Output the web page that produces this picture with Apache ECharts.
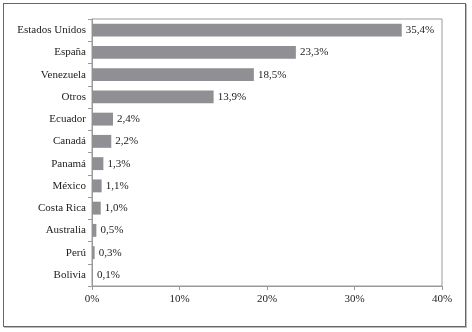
<!DOCTYPE html>
<html>
<head>
<meta charset="utf-8">
<script src="https://cdn.jsdelivr.net/npm/echarts@6/dist/echarts.min.js"></script>
<style>
  html, body { margin: 0; padding: 0; background: #fff; }
  .frame {
    position: absolute; left: 3px; top: 3px; width: 461px; height: 322px;
    border: 1px solid #666; box-shadow: 1px 1px 0 #bbb;
  }
  #bar { position: absolute; left: 0; top: 0; width: 472px; height: 332px; }
</style>
</head>
<body>
<div class="frame"></div>
<div id="bar"></div>
<script>
var countries = ['Estados Unidos', 'España', 'Venezuela', 'Otros', 'Ecuador', 'Canadá',
  'Panamá', 'México', 'Costa Rica', 'Australia', 'Perú', 'Bolivia'];
var shares = [35.4, 23.3, 18.5, 13.9, 2.4, 2.2, 1.3, 1.1, 1.0, 0.5, 0.3, 0.1];
var xTicks = [0, 10, 20, 30, 40];

var renderChart = function () {
  var chartDom = document.getElementById('bar');
  var myChart = echarts.init(chartDom, null, { devicePixelRatio: 1, width: 472, height: 332 });
  var font = '"Liberation Serif", "DejaVu Serif", serif';
  var option = {
    animation: false,
    textStyle: { fontFamily: font },
    grid: {
      left: 92, right: 30, top: 19, bottom: 46,
      show: true, borderColor: '#9a9a9a', borderWidth: 1
    },
    xAxis: {
      type: 'value',
      min: xTicks[0],
      max: xTicks[xTicks.length - 1],
      interval: 10,
      axisLine: { show: true, lineStyle: { color: '#9a9a9a' } },
      axisTick: { show: true, length: 4, lineStyle: { color: '#9a9a9a' } },
      splitLine: { show: false },
      axisLabel: {
        color: '#222', fontFamily: font, fontSize: 11, margin: 8,
        formatter: function (v) { return v + '%'; }
      }
    },
    yAxis: {
      type: 'category',
      inverse: true,
      data: countries,
      axisLine: { show: true, lineStyle: { color: '#9a9a9a' } },
      axisTick: { show: true, length: 4, lineStyle: { color: '#9a9a9a' } },
      axisLabel: { color: '#222', fontFamily: font, fontSize: 11, margin: 6 }
    },
    series: [
      {
        type: 'bar',
        data: shares,
        barCategoryGap: '42%',
        itemStyle: { color: '#909094' },
        label: {
          show: true,
          position: 'right',
          distance: 4,
          color: '#222',
          fontFamily: font,
          fontSize: 11,
          formatter: function (p) { return p.value.toFixed(1).replace('.', ',') + '%'; }
        }
      }
    ]
  };
  myChart.setOption(option);
};
renderChart();
</script>
</body>
</html>
